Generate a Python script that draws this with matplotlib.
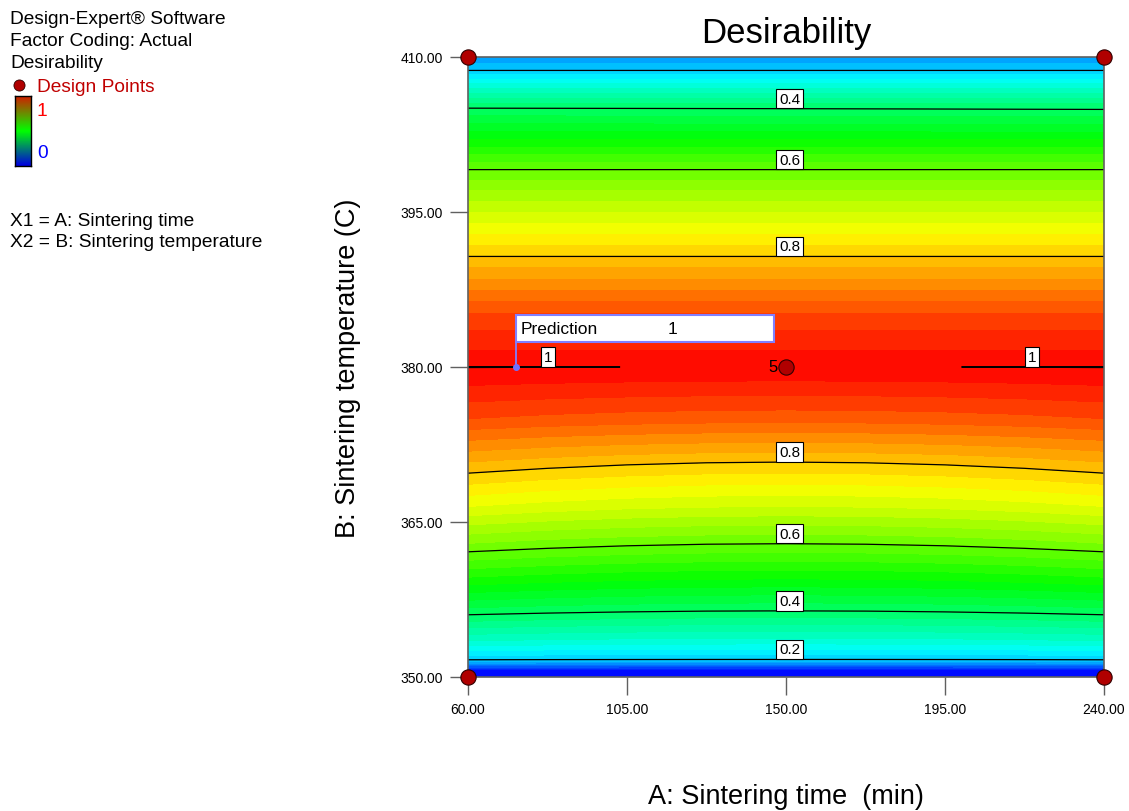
"""
Design-Expert style desirability contour: sintering time vs sintering temperature
"""
import numpy as np
import matplotlib
matplotlib.use('Agg')
import matplotlib.pyplot as plt
from matplotlib.colors import LinearSegmentedColormap
from matplotlib.patches import Rectangle

plt.rcParams['font.family'] = ['Liberation Sans', 'DejaVu Sans']

# --- Data ---
times = [60, 82.5, 105, 127.5, 150, 172.5, 195, 217.5, 240]   # A: sintering time (min)
temps = [350.0, 350.7, 351.2, 351.7, 353.5, 356.4, 359.5, 362.9, 366.5, 370.8,
         375.0, 379.5, 380.0, 380.5, 385.0, 390.7, 395.0, 399.1, 402.0, 405.0,
         407.0, 408.7, 410.0]                                  # B: sintering temperature (C)
desirability = [
    [0.000, 0.000, 0.000, 0.000, 0.000, 0.000, 0.000, 0.000, 0.000],
    [0.020, 0.020, 0.020, 0.020, 0.020, 0.020, 0.020, 0.020, 0.020],
    [0.130, 0.1256, 0.1225, 0.1206, 0.120, 0.1206, 0.1225, 0.1256, 0.130],
    [0.205, 0.2028, 0.2013, 0.2003, 0.200, 0.2003, 0.2013, 0.2028, 0.205],
    [0.300, 0.2956, 0.2925, 0.2906, 0.290, 0.2906, 0.2925, 0.2956, 0.300],
    [0.415, 0.4084, 0.4038, 0.4009, 0.400, 0.4009, 0.4038, 0.4084, 0.415],
    [0.520, 0.5113, 0.5050, 0.5013, 0.500, 0.5013, 0.5050, 0.5113, 0.520],
    [0.624, 0.6135, 0.6060, 0.6015, 0.600, 0.6015, 0.6060, 0.6135, 0.624],
    [0.725, 0.7141, 0.7063, 0.7016, 0.700, 0.7016, 0.7063, 0.7141, 0.725],
    [0.825, 0.8141, 0.8063, 0.8016, 0.800, 0.8016, 0.8063, 0.8141, 0.825],
    [0.925, 0.9184, 0.9138, 0.9109, 0.910, 0.9109, 0.9138, 0.9184, 0.925],
    [0.995, 0.9928, 0.9913, 0.9903, 0.990, 0.9903, 0.9913, 0.9928, 0.995],
    [1.0006, 1.0003, 0.99997, 0.9995, 0.999, 0.9995, 0.99992, 1.0003, 1.0006],
    [0.990, 0.990, 0.990, 0.990, 0.990, 0.990, 0.990, 0.990, 0.990],
    [0.930, 0.930, 0.930, 0.930, 0.930, 0.930, 0.930, 0.930, 0.930],
    [0.800, 0.800, 0.800, 0.800, 0.800, 0.800, 0.800, 0.800, 0.800],
    [0.700, 0.700, 0.700, 0.700, 0.700, 0.700, 0.700, 0.700, 0.700],
    [0.600, 0.600, 0.600, 0.600, 0.600, 0.600, 0.600, 0.600, 0.600],
    [0.500, 0.500, 0.500, 0.500, 0.500, 0.500, 0.500, 0.500, 0.500],
    [0.4025, 0.4019, 0.4013, 0.4006, 0.400, 0.3994, 0.3988, 0.3981, 0.3975],
    [0.300, 0.300, 0.300, 0.300, 0.300, 0.300, 0.300, 0.300, 0.300],
    [0.200, 0.200, 0.200, 0.200, 0.200, 0.200, 0.200, 0.200, 0.200],
    [0.150, 0.150, 0.150, 0.150, 0.150, 0.150, 0.150, 0.150, 0.150],
]
contour_levels = [0.2, 0.4, 0.6, 0.8, 1.0]

design_time = [60, 60, 240, 240, 150]
design_temp = [350, 410, 350, 410, 380]
design_reps = [1, 1, 1, 1, 5]

pred_time, pred_temp, pred_value = 73.6, 380.0, 1

x_ticks = [60, 105, 150, 195, 240]
y_ticks = [350, 365, 380, 395, 410]

# --- Figure ---
fig = plt.figure(figsize=(11.29, 8.12), dpi=100)
ax = fig.add_axes([468 / 1129, 1 - 678 / 812, 636 / 1129, 620 / 812])

de_cmap = LinearSegmentedColormap.from_list(
    'de', [(0, '#0000ff'), (0.25, '#00ffff'), (0.5, '#00ff00'),
           (0.75, '#ffff00'), (1.0, '#ff0000')])
de_cmap.set_over('#ff0000')
de_cmap.set_under('#0000ff')

X, Y = np.meshgrid(times, temps)
Z = np.array(desirability)
ax.contourf(X, Y, Z, levels=np.linspace(0, 1, 41), cmap=de_cmap, extend='both')
cs = ax.contour(X, Y, Z, levels=contour_levels, colors='black', linewidths=0.9)

# contour labels: white boxes sitting on the lines
label_x = {1.0: [82.6, 219.6]}
for lev, segs in zip(cs.levels, cs.allsegs):
    for seg in segs:
        if len(seg) < 2:
            continue
        order = np.argsort(seg[:, 0])
        sx, sy = seg[order, 0], seg[order, 1]
        for x0 in label_x.get(round(lev, 2), [151.0]):
            if not (sx.min() <= x0 <= sx.max()):
                continue
            y0 = np.interp(x0, sx, sy)
            if lev < 0.3 and y0 > 400:
                continue
            ax.annotate(f'{lev:g}', xy=(x0, y0), xytext=(0, 2.2), textcoords='offset points',
                        ha='center', va='bottom', fontsize=11, zorder=6,
                        bbox=dict(boxstyle='square,pad=0.18', fc='white', ec='black', lw=0.8))

# design points
ax.plot(design_time, design_temp, 'o', ms=11, mfc='#b00000', mec='#300000', mew=0.8,
        clip_on=False, zorder=10, ls='none')
for t, T, n in zip(design_time, design_temp, design_reps):
    if n > 1:
        ax.annotate(str(n), xy=(t, T), xytext=(-6, 0), textcoords='offset points',
                    ha='right', va='center', fontsize=12, zorder=10)

# prediction flag
ax.plot([pred_time, pred_time], [pred_temp, pred_temp + 2.45], color='#8080ff', lw=1.3, zorder=7)
ax.plot(pred_time, pred_temp, 'o', ms=4, color='#7070ff', zorder=8)
ax.add_patch(Rectangle((pred_time, pred_temp + 2.45), 73.0, 2.6, fc='white', ec='#8080ff',
                       lw=1.5, zorder=7))
ax.text(pred_time + 1.4, pred_temp + 3.75, 'Prediction', fontsize=12.5, va='center', zorder=8)
ax.text(pred_time + 43.0, pred_temp + 3.75, f'{pred_value}', fontsize=12.5, va='center', zorder=8)

# axes formatting
ax.set_xlim(60, 240)
ax.set_ylim(350, 410)
ax.set_xticks(x_ticks)
ax.set_xticklabels([f'{v:.2f}' for v in x_ticks])
ax.set_yticks(y_ticks)
ax.set_yticklabels([f'{v:.2f}' for v in y_ticks])
ax.tick_params(direction='out', length=13, width=1, color='#606060', labelsize=10, pad=5)
for sp in ax.spines.values():
    sp.set_color('#606060')
    sp.set_linewidth(1.2)

fig.text(786 / 1129, 1 - 33 / 812, 'Desirability', fontsize=25, ha='center', va='center')
fig.text(348 / 1129, 1 - 368 / 812, 'B: Sintering temperature (C)', fontsize=19.5,
         rotation=90, ha='center', va='center')
fig.text(786 / 1129, 1 - 797 / 812, 'A: Sintering time  (min)', fontsize=19.5,
         ha='center', va='center')

# --- Left info panel ---
info = ['Design-Expert® Software', 'Factor Coding: Actual', 'Desirability']
for i, line in enumerate(info):
    fig.text(10 / 1129, 1 - (19 + 22.5 * i) / 812, line, fontsize=13.8, va='center')
fig.text(37 / 1129, 1 - 87 / 812, 'Design Points', fontsize=13.8, va='center', color='#c00000')
fig.lines.append(plt.Line2D([19 / 1129], [1 - 86 / 812], marker='o', ms=8, mfc='#b00000',
                            mec='#300000', mew=0.6, transform=fig.transFigure))
cax = fig.add_axes([15 / 1129, 1 - 167 / 812, 16 / 1129, 70 / 812])
bar_cmap = LinearSegmentedColormap.from_list('bar', ['#0000e0', '#00ff00', '#d02000'])
cax.imshow(np.linspace(1, 0, 100)[:, None], aspect='auto', cmap=bar_cmap, vmin=0, vmax=1)
cax.set_xticks([])
cax.set_yticks([])
for sp in cax.spines.values():
    sp.set_color('black')
    sp.set_linewidth(1.0)
fig.text(37 / 1129, 1 - 112 / 812, '1', fontsize=13.8, va='center', color='#ff0000')
fig.text(37 / 1129, 1 - 153 / 812, '0', fontsize=13.8, va='center', color='#0000ff')
fig.text(10 / 1129, 1 - 221 / 812, 'X1 = A: Sintering time', fontsize=13.8, va='center')
fig.text(10 / 1129, 1 - 243 / 812, 'X2 = B: Sintering temperature', fontsize=13.8, va='center')

plt.savefig('out.png', dpi=100)
plt.close()
